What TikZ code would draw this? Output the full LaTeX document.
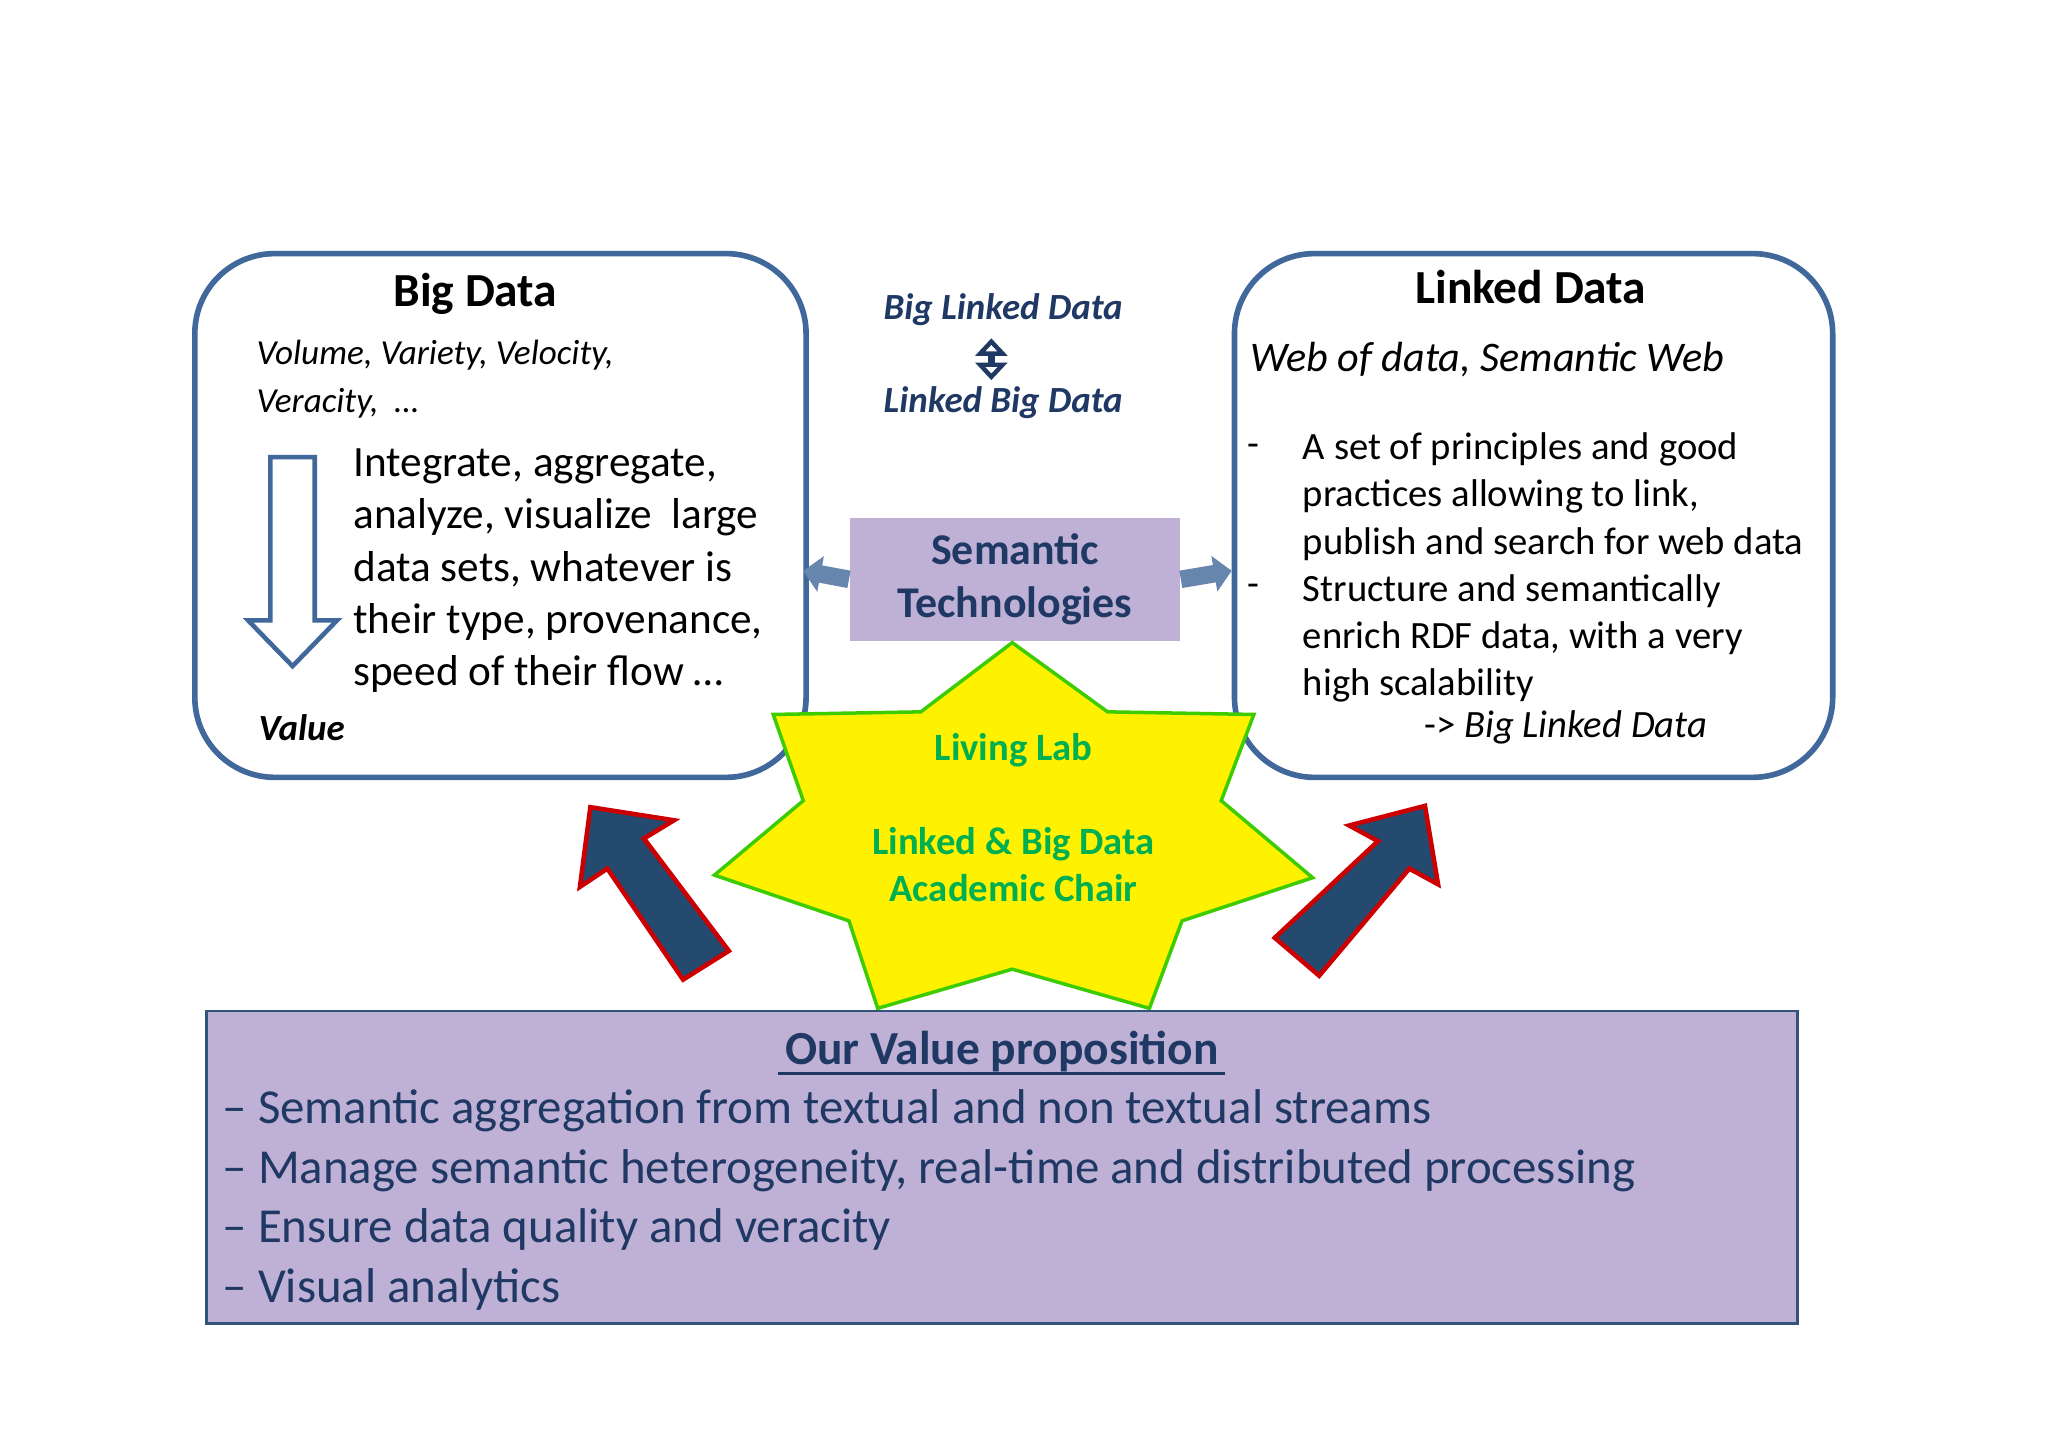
\documentclass[tikz,border=0pt]{standalone}
\usepackage{fontspec}
\setmainfont{Carlito}
\usetikzlibrary{arrows.meta}
\definecolor{navy}{HTML}{1F3864}
\definecolor{boxb}{HTML}{41689A}
\definecolor{purp}{HTML}{BFB1D5}
\definecolor{grn}{HTML}{00B050}
\definecolor{arr}{HTML}{244A70}
\begin{document}
\begin{tikzpicture}[x=0.013061cm,y=-0.013061cm,
 rbox/.style={draw=boxb,line width=1.6pt,rounded corners=0.8cm,fill=white},
 bigarrow/.style={fill=arr,draw=red!80!black,line width=1.3pt},
 side/.style={-{Triangle[length=5pt,width=10pt]},line width=5pt}]
\useasboundingbox (0,0) rectangle (1568,1108);
% boxes
\node[rbox,minimum width=468*0.013061cm,minimum height=401*0.013061cm,anchor=north west] (bd) at (147,192) {};
\node[rbox,minimum width=458*0.013061cm,minimum height=401*0.013061cm,anchor=north west] (ld) at (943,192) {};
\node[fill=purp,minimum width=253*0.013061cm,minimum height=94*0.013061cm,anchor=north west,inner sep=0pt] (st) at (650,396) {};
\node[text=navy,font=\bfseries\fontsize{12.5}{15}\selectfont,align=center] at (st.center) {Semantic\\Technologies};
% side arrows
\coordinate (sl) at (615,437);
\coordinate (sr) at (943,437);
\draw[side,draw=boxb!80] (st.west) -- (sl);
\draw[side,draw=boxb!80] (st.east) -- (sr);
% star
\draw[fill=yellow,draw=green!70!yellow!80!black,line width=1pt] (775,492) -- (848,545) -- (960,547) -- (935,613) -- (1005,672) -- (905,705) -- (880,772) -- (775,742) -- (672,772) -- (650,705) -- (547,670) -- (615,613) -- (592,547) -- (705,545) -- cycle;
\node[text=grn,font=\bfseries\fontsize{11}{13}\selectfont] (ll) at (776,574) {Living Lab};
\node[text=grn,font=\bfseries\fontsize{11}{13.2}\selectfont,align=center] (ch) at (776,662) {Linked \& Big Data\\Academic Chair};
% big arrows
\draw[bigarrow] (558,728) -- (523,750) -- (465,665) -- (444,679) -- (452,618) -- (516,628) -- (493,642) -- cycle;
\draw[bigarrow] (976,718) -- (1010,747) -- (1079,665) -- (1101,677) -- (1091,617) -- (1033,632) -- (1055,644) -- cycle;
% big data text
\node[font=\bfseries\fontsize{13.5}{16}\selectfont] at (364,225) {Big Data};
\node[font=\itshape\fontsize{10}{13.5}\selectfont,align=left,anchor=north west,inner sep=0pt] at (196,260) {Volume, Variety, Velocity,\\Veracity,\ \ …};
\draw[boxb,line width=1.3pt,fill=white] (207,350) -- (241,350) -- (241,475) -- (258,475) -- (224,510) -- (190,475) -- (207,475) -- cycle;
\node[font=\fontsize{12.3}{14.9}\selectfont,align=left,anchor=north west,inner sep=0pt] at (270,343) {Integrate, aggregate,\\analyze, visualize\ \ large\\data sets, whatever is\\their type, provenance,\\speed of their flow …};
\node[font=\bfseries\itshape\fontsize{10.5}{13}\selectfont] at (231,557) {Value};
% middle
\node[text=navy,font=\bfseries\itshape\fontsize{10.5}{13}\selectfont] (bl) at (768,237) {Big Linked Data};
\node[text=navy,font=\bfseries\itshape\fontsize{10.5}{13}\selectfont] (lb) at (768,308) {Linked Big Data};
\draw[navy,line width=2pt,{Triangle[length=5pt,width=9pt,open]}-{Triangle[length=5pt,width=9pt,open]}] (759,259) -- (759,291);
% linked data
\node[font=\bfseries\fontsize{13.5}{16}\selectfont] at (1172,220) {Linked Data};
\node[font=\itshape\fontsize{12}{14}\selectfont,anchor=west,inner sep=0pt] at (957,275) {Web of data, Semantic Web};
\node[font=\fontsize{11}{13.4}\selectfont,align=left,anchor=north west,inner sep=0pt] at (997,331) {A set of principles and good\\practices allowing to link,\\publish and search for web data\\Structure and semantically\\enrich RDF data, with a very\\high scalability};
\node[font=\fontsize{11}{13}\selectfont,anchor=west,inner sep=0pt] at (1090,557) {-> \textit{Big Linked Data}};
\node[font=\fontsize{11}{13}\selectfont] at (960,345) {-};
\node[font=\fontsize{11}{13}\selectfont] at (960,452) {-};
% bottom box
\node[draw=boxb!80!black,fill=purp,line width=0.8pt,minimum width=1218*0.013061cm,minimum height=239*0.013061cm,anchor=north west] (vp) at (157,773) {};
\node[text=navy,font=\bfseries\fontsize{13.5}{16}\selectfont] at (767,805) {Our Value proposition};
\draw[navy,line width=1pt] (596,822) -- (938,822);
\node[text=navy,font=\fontsize{13.9}{16.9}\selectfont,align=left,anchor=north west,inner sep=0pt] at (170,834) {– Semantic aggregation from textual and non textual streams\\– Manage semantic heterogeneity, real-time and distributed processing\\– Ensure data quality and veracity\\– Visual analytics};
\end{tikzpicture}
\end{document}
